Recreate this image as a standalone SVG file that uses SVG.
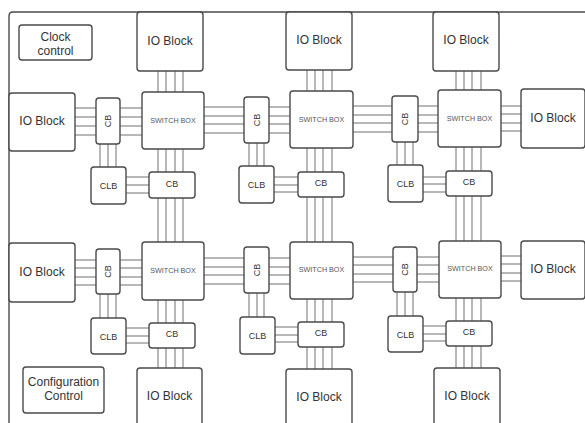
<svg xmlns="http://www.w3.org/2000/svg" width="585" height="423" viewBox="0 0 585 423">
<style>
.b{fill:#fff;stroke:#4a4a4a;stroke-width:1.4}
.t{font-family:"Liberation Sans",Arial,sans-serif;fill:#333;text-anchor:middle}
.io{font-size:12px}
.sb{font-size:7.2px;fill:#555}
.sm{font-size:9px}
.w{fill:none;stroke:#707070;stroke-width:1}
</style>
<rect width="585" height="423" fill="#fff"/>
<path d="M9 430V16Q9 12 13 12H590" fill="none" stroke="#4a4a4a" stroke-width="1.4"/>
<g id="connectors" class="w">
<path d="M158 71V92M166 71V92M175 71V92M183 71V92"/>
<path d="M75 108H96M75 117H96M75 126H96M75 135H96"/>
<path d="M120 108H142M120 117H142M120 126H142M120 135H142"/>
<path d="M100 144V167M108 144V167M116 144V167"/>
<path d="M126 177H149M126 185H149M126 193H149"/>
<path d="M158 149V172M166 149V172M175 149V172M183 149V172"/>
<path d="M158 198V242M166 198V242M175 198V242M183 198V242"/>
<path d="M204 107H244M204 116H244M204 124H244M204 133H244"/>
<path d="M307 70V91M315 70V91M323 70V91M332 70V91"/>
<path d="M269 107H290M269 116H290M269 124H290M269 133H290"/>
<path d="M249 143V166M257 143V166M264 143V166"/>
<path d="M274 177H298M274 185H298M274 192H298"/>
<path d="M307 148V172M315 148V172M323 148V172M332 148V172"/>
<path d="M307 197V242M315 197V242M323 197V242M332 197V242"/>
<path d="M353 106H392M353 115H392M353 123H392M353 132H392"/>
<path d="M418 106H438M418 115H438M418 123H438M418 132H438"/>
<path d="M397 142V165M405 142V165M413 142V165"/>
<path d="M423 177H446M423 184H446M423 192H446"/>
<path d="M456 71V90M464 71V90M472 71V90M481 71V90"/>
<path d="M456 147V171M464 147V171M472 147V171M481 147V171"/>
<path d="M456 196V241M464 196V241M472 196V241M481 196V241"/>
<path d="M501 106H521M501 114H521M501 123H521M501 131H521"/>
<path d="M75 260H96M75 268H96M75 277H96M75 285H96"/>
<path d="M120 260H142M120 268H142M120 277H142M120 285H142"/>
<path d="M100 294V318M108 294V318M116 294V318"/>
<path d="M126 328H149M126 336H149M126 343H149"/>
<path d="M158 300V323M166 300V323M175 300V323M183 300V323"/>
<path d="M158 348V368M166 348V368M175 348V368M183 348V368"/>
<path d="M204 258H244M204 267H244M204 275H244M204 284H244"/>
<path d="M269 258H290M269 267H290M269 275H290M269 284H290"/>
<path d="M249 293V317M257 293V317M264 293V317"/>
<path d="M275 327H298M275 335H298M275 342H298"/>
<path d="M307 299V322M315 299V322M323 299V322M332 299V322"/>
<path d="M307 347V369M315 347V369M323 347V369M332 347V369"/>
<path d="M353 257H393M353 265H393M353 274H393M353 282H393"/>
<path d="M417 257H439M417 265H439M417 274H439M417 282H439"/>
<path d="M397 292V316M405 292V316M413 292V316"/>
<path d="M423 326H446M423 334H446M423 341H446"/>
<path d="M456 298V321M464 298V321M472 298V321M481 298V321"/>
<path d="M456 346V368M464 346V368M472 346V368M481 346V368"/>
<path d="M501 256H521M501 264H521M501 273H521M501 281H521"/>
</g>
<g id="clock"><rect class="b" x="19" y="25" width="73" height="35" rx="3"/><text class="t io" x="55.5" y="41">Clock</text><text class="t io" x="55.5" y="55">control</text></g>
<g id="config"><rect class="b" x="23" y="367" width="81" height="46" rx="3"/><text class="t io" x="63.5" y="386">Configuration</text><text class="t io" x="63.5" y="400">Control</text></g>
<g id="io-top1"><rect class="b" x="137" y="12" width="66" height="59" rx="3"/><text class="t io" x="170" y="45">IO Block</text></g>
<g id="io-top2"><rect class="b" x="286" y="12" width="66" height="58" rx="3"/><text class="t io" x="319" y="44">IO Block</text></g>
<g id="io-top3"><rect class="b" x="433" y="12" width="66" height="59" rx="3"/><text class="t io" x="466" y="44">IO Block</text></g>
<g id="io-left1"><rect class="b" x="9" y="93" width="66" height="58" rx="3"/><text class="t io" x="42" y="125">IO Block</text></g>
<g id="io-left2"><rect class="b" x="9" y="243" width="66" height="59" rx="3"/><text class="t io" x="42" y="276">IO Block</text></g>
<g id="io-right1"><rect class="b" x="521" y="89" width="64" height="59" rx="3"/><text class="t io" x="553" y="122">IO Block</text></g>
<g id="io-right2"><rect class="b" x="521" y="241" width="64" height="58" rx="3"/><text class="t io" x="553" y="273">IO Block</text></g>
<g id="io-bot1"><rect class="b" x="137" y="368" width="65" height="70" rx="3"/><text class="t io" x="169.5" y="400">IO Block</text></g>
<g id="io-bot2"><rect class="b" x="286" y="369" width="66" height="70" rx="3"/><text class="t io" x="319" y="401">IO Block</text></g>
<g id="io-bot3"><rect class="b" x="434" y="368" width="66" height="70" rx="3"/><text class="t io" x="467" y="400">IO Block</text></g>
<g id="sb11"><rect class="b" x="142" y="92" width="62" height="57" rx="3"/><text class="t sb" x="173" y="123">SWITCH BOX</text></g>
<g id="sb12"><rect class="b" x="290" y="91" width="63" height="57" rx="3"/><text class="t sb" x="321.5" y="122">SWITCH BOX</text></g>
<g id="sb13"><rect class="b" x="438" y="90" width="63" height="57" rx="3"/><text class="t sb" x="469.5" y="121">SWITCH BOX</text></g>
<g id="sb21"><rect class="b" x="142" y="242" width="62" height="58" rx="3"/><text class="t sb" x="173" y="273">SWITCH BOX</text></g>
<g id="sb22"><rect class="b" x="290" y="242" width="63" height="57" rx="3"/><text class="t sb" x="321.5" y="272">SWITCH BOX</text></g>
<g id="sb23"><rect class="b" x="439" y="241" width="62" height="57" rx="3"/><text class="t sb" x="470" y="271">SWITCH BOX</text></g>
<g id="cbv11"><rect class="b" x="96" y="98" width="24" height="46" rx="3"/><text class="t sm" transform="translate(111.2 121) rotate(-90)">CB</text></g>
<g id="cbv12"><rect class="b" x="244" y="97" width="25" height="46" rx="3"/><text class="t sm" transform="translate(259.7 120) rotate(-90)">CB</text></g>
<g id="cbv13"><rect class="b" x="392" y="96" width="26" height="46" rx="3"/><text class="t sm" transform="translate(408.2 119) rotate(-90)">CB</text></g>
<g id="cbv21"><rect class="b" x="96" y="249" width="24" height="45" rx="3"/><text class="t sm" transform="translate(111.2 271.5) rotate(-90)">CB</text></g>
<g id="cbv22"><rect class="b" x="244" y="247" width="25" height="46" rx="3"/><text class="t sm" transform="translate(259.7 270) rotate(-90)">CB</text></g>
<g id="cbv23"><rect class="b" x="393" y="247" width="24" height="45" rx="3"/><text class="t sm" transform="translate(408.2 269.5) rotate(-90)">CB</text></g>
<g id="clb11"><rect class="b" x="91" y="167" width="35" height="37" rx="3"/><text class="t sm" x="108.5" y="189">CLB</text></g>
<g id="clb12"><rect class="b" x="239" y="166" width="35" height="37" rx="3"/><text class="t sm" x="256.5" y="188">CLB</text></g>
<g id="clb13"><rect class="b" x="388" y="165" width="35" height="37" rx="3"/><text class="t sm" x="405.5" y="187">CLB</text></g>
<g id="clb21"><rect class="b" x="91" y="318" width="35" height="36" rx="3"/><text class="t sm" x="108.5" y="340">CLB</text></g>
<g id="clb22"><rect class="b" x="240" y="317" width="35" height="37" rx="3"/><text class="t sm" x="257.5" y="339">CLB</text></g>
<g id="clb23"><rect class="b" x="388" y="316" width="35" height="36" rx="3"/><text class="t sm" x="405.5" y="338">CLB</text></g>
<g id="cbh11"><rect class="b" x="149" y="172" width="46" height="26" rx="3"/><text class="t sm" x="172" y="187">CB</text></g>
<g id="cbh12"><rect class="b" x="298" y="172" width="46" height="25" rx="3"/><text class="t sm" x="321" y="186">CB</text></g>
<g id="cbh13"><rect class="b" x="446" y="171" width="46" height="25" rx="3"/><text class="t sm" x="469" y="185">CB</text></g>
<g id="cbh21"><rect class="b" x="149" y="323" width="46" height="25" rx="3"/><text class="t sm" x="172" y="337">CB</text></g>
<g id="cbh22"><rect class="b" x="298" y="322" width="46" height="25" rx="3"/><text class="t sm" x="321" y="336">CB</text></g>
<g id="cbh23"><rect class="b" x="446" y="321" width="46" height="25" rx="3"/><text class="t sm" x="469" y="335">CB</text></g>
</svg>
